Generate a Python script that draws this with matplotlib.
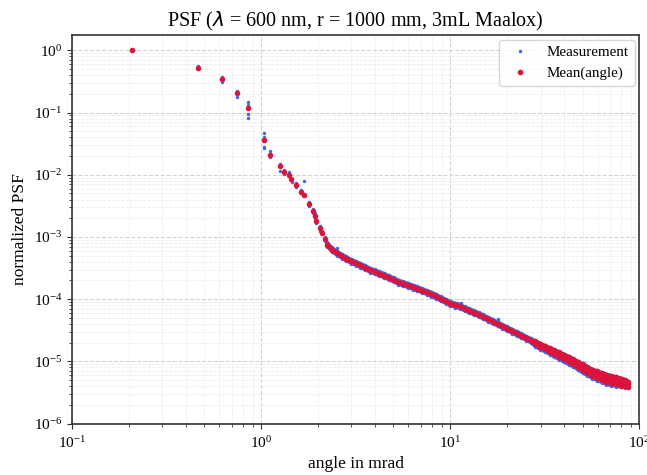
import numpy as np
import matplotlib
matplotlib.use('Agg')
import matplotlib.pyplot as plt

plt.rcParams['font.family'] = 'serif'
plt.rcParams['font.serif'] = ['Liberation Serif', 'DejaVu Serif']

# gemessene Punkte im diskreten Bereich (kleine Winkel)
ang_first = [0.208, 0.465, 0.622, 0.747, 0.855, 1.038, 1.117, 1.262, 1.325, 1.40,
             1.44, 1.52, 1.63, 1.68, 1.78, 1.88, 1.92, 1.96, 2.05, 2.09, 2.17]
mean_first = [1.0, 0.525, 0.342, 0.204, 0.118, 0.0361, 0.0205, 0.0136, 0.0110, 0.0099,
              0.0086, 0.0068, 0.0053, 0.0048, 0.0034, 0.0026, 0.0022, 0.0018, 0.00137, 0.00117, 0.00093]

meas_first_x = [0.208, 0.465, 0.465, 0.622, 0.622, 0.747, 0.747,
                0.855, 0.855, 0.855, 0.855, 1.038, 1.038, 1.038, 1.038,
                1.117, 1.117, 1.262, 1.262, 1.325, 1.325, 1.40, 1.40,
                1.44, 1.45, 1.52, 1.52, 1.63, 1.63, 1.68, 1.68,
                1.78, 1.78, 1.88, 1.88, 1.92, 1.92, 1.96, 1.96,
                2.05, 2.05, 2.09, 2.09, 2.17, 2.17]
meas_first_y = [1.0, 0.56, 0.495, 0.372, 0.313, 0.224, 0.175,
                0.148, 0.132, 0.0946, 0.083, 0.0463, 0.0408, 0.0282, 0.0265,
                0.0241, 0.0191, 0.0148, 0.0115, 0.0118, 0.0103, 0.0112, 0.0094,
                0.0087, 0.0077, 0.0075, 0.0063, 0.0056, 0.0050, 0.0079, 0.0045,
                0.0037, 0.0031, 0.0028, 0.0024, 0.0024, 0.0020, 0.0019, 0.0017,
                0.0015, 0.00125, 0.00125, 0.0011, 0.00100, 0.00086]

# dichter Bereich
ang_dense = [2.239, 2.371, 2.512, 2.661, 2.818, 2.985, 3.162, 3.350, 3.548, 3.758,
             3.981, 4.217, 4.467, 4.732, 5.012, 5.309, 5.623, 5.957, 6.310, 6.683,
             7.079, 7.499, 7.943, 8.414, 8.913, 9.441, 10.0, 10.59, 11.22, 11.89,
             12.59, 13.34, 14.13, 14.96, 15.85, 16.79, 17.78, 18.84, 19.95, 21.13,
             22.39, 23.71, 25.12, 26.61, 28.18, 29.85, 31.62, 33.50, 35.48, 37.58,
             39.81, 42.17, 44.67, 47.32, 50.12, 53.09, 56.23, 59.57, 63.10, 66.83,
             70.79, 74.99, 79.43, 84.14, 87.10]
mean_dense = [7.57e-4, 6.22e-4, 5.53e-4, 4.94e-4, 4.48e-4, 4.08e-4, 3.78e-4, 3.49e-4, 3.21e-4, 2.94e-4,
              2.75e-4, 2.58e-4, 2.40e-4, 2.22e-4, 2.05e-4, 1.89e-4, 1.77e-4, 1.67e-4, 1.57e-4, 1.48e-4,
              1.38e-4, 1.29e-4, 1.20e-4, 1.11e-4, 1.01e-4, 9.29e-5, 8.53e-5, 8.04e-5, 7.69e-5, 7.03e-5,
              6.56e-5, 6.08e-5, 5.65e-5, 5.21e-5, 4.77e-5, 4.38e-5, 4.01e-5, 3.66e-5, 3.37e-5, 3.08e-5,
              2.82e-5, 2.59e-5, 2.37e-5, 2.17e-5, 1.99e-5, 1.82e-5, 1.67e-5, 1.53e-5, 1.40e-5, 1.29e-5,
              1.18e-5, 1.08e-5, 9.86e-6, 8.89e-6, 8.02e-6, 7.23e-6, 6.61e-6, 6.15e-6, 5.75e-6, 5.37e-6,
              5.12e-6, 4.90e-6, 4.67e-6, 4.47e-6, 4.32e-6]
meas_dense_hi = [8.30e-4, 6.82e-4, 6.06e-4, 5.41e-4, 4.91e-4, 4.47e-4, 4.14e-4, 3.83e-4, 3.52e-4, 3.22e-4,
                 3.01e-4, 2.83e-4, 2.63e-4, 2.43e-4, 2.25e-4, 2.07e-4, 1.94e-4, 1.83e-4, 1.72e-4, 1.62e-4,
                 1.51e-4, 1.41e-4, 1.32e-4, 1.22e-4, 1.11e-4, 1.02e-4, 9.35e-5, 8.81e-5, 8.43e-5, 7.70e-5,
                 7.19e-5, 6.66e-5, 6.19e-5, 5.71e-5, 5.23e-5, 4.80e-5, 4.39e-5, 4.01e-5, 3.69e-5, 3.38e-5,
                 3.09e-5, 2.84e-5, 2.60e-5, 2.38e-5, 2.18e-5, 1.99e-5, 1.83e-5, 1.69e-5, 1.56e-5, 1.45e-5,
                 1.34e-5, 1.23e-5, 1.12e-5, 1.02e-5, 9.30e-6, 8.38e-6, 7.66e-6, 7.20e-6, 6.73e-6, 6.34e-6,
                 6.04e-6, 5.78e-6, 5.51e-6, 5.16e-6, 4.90e-6]
meas_dense_lo = [6.90e-4, 5.67e-4, 5.04e-4, 4.51e-4, 4.09e-4, 3.72e-4, 3.45e-4, 3.18e-4, 2.93e-4, 2.68e-4,
                 2.51e-4, 2.35e-4, 2.19e-4, 2.02e-4, 1.87e-4, 1.72e-4, 1.61e-4, 1.52e-4, 1.43e-4, 1.35e-4,
                 1.26e-4, 1.18e-4, 1.09e-4, 1.01e-4, 9.21e-5, 8.47e-5, 7.78e-5, 7.33e-5, 7.01e-5, 6.41e-5,
                 5.98e-5, 5.54e-5, 5.15e-5, 4.75e-5, 4.35e-5, 3.99e-5, 3.66e-5, 3.34e-5, 3.07e-5, 2.81e-5,
                 2.57e-5, 2.36e-5, 2.16e-5, 1.98e-5, 1.69e-5, 1.54e-5, 1.41e-5, 1.28e-5, 1.16e-5, 1.06e-5,
                 9.64e-6, 8.82e-6, 8.06e-6, 7.19e-6, 6.43e-6, 5.80e-6, 5.30e-6, 4.88e-6, 4.56e-6, 4.23e-6,
                 4.03e-6, 3.95e-6, 3.85e-6, 3.80e-6, 3.78e-6]

# Streuung des Mittelwerts am Ende (breites Band)
ang_tail = [28.18, 29.85, 31.62, 33.50, 35.48, 37.58, 39.81, 42.17, 44.67, 47.32,
            50.12, 53.09, 56.23, 59.57, 63.10, 66.83, 70.79, 74.99, 79.43, 84.14, 87.10]
mean_tail_hi = [2.10e-5, 1.92e-5, 1.77e-5, 1.63e-5, 1.51e-5, 1.40e-5, 1.29e-5, 1.18e-5, 1.08e-5, 9.84e-6,
                8.96e-6, 8.08e-6, 7.38e-6, 6.93e-6, 6.49e-6, 6.11e-6, 5.83e-6, 5.58e-6, 5.31e-6, 5.00e-6, 4.73e-6]
mean_tail_lo = [1.88e-5, 1.72e-5, 1.58e-5, 1.43e-5, 1.30e-5, 1.19e-5, 1.08e-5, 9.85e-6, 8.99e-6, 8.04e-6,
                7.18e-6, 6.47e-6, 5.92e-6, 5.46e-6, 5.10e-6, 4.72e-6, 4.50e-6, 4.31e-6, 4.10e-6, 3.99e-6, 3.94e-6]

# einzelne Ausreisser
ang_out = [2.53, 11.35, 17.9]
meas_out = [6.56e-4, 8.75e-5, 4.73e-5]

meas_x = meas_first_x + ang_dense + ang_dense + ang_out
meas_y = meas_first_y + meas_dense_hi + meas_dense_lo + meas_out
mean_x = ang_first + ang_dense + ang_tail + ang_tail
mean_y = mean_first + mean_dense + mean_tail_hi + mean_tail_lo

blue = 'royalblue'
red = 'crimson'

fig = plt.figure(figsize=(6.47, 4.75), dpi=100)
ax = fig.add_subplot(111)
fig.subplots_adjust(left=0.1113, right=0.9884, bottom=0.108, top=0.9263)

# sehr dichte Punktwolke -> als durchgehendes Band
ax.plot(ang_dense, meas_dense_hi, color=blue, lw=1.8, solid_capstyle='round')
ax.plot(ang_dense, meas_dense_lo, color=blue, lw=1.8, solid_capstyle='round')
ax.plot(meas_x, meas_y, 'o', color=blue, markersize=2.5, markeredgewidth=0, label='Measurement')

ax.plot(ang_dense, mean_dense, color=red, lw=3.4, solid_capstyle='round')
ax.plot(ang_tail, mean_tail_hi, color=red, lw=3.0, solid_capstyle='round')
ax.plot(ang_tail, mean_tail_lo, color=red, lw=3.0, solid_capstyle='round')
ax.plot(mean_x, mean_y, 'o', color=red, markersize=4.0, markeredgewidth=0, label='Mean(angle)')

ax.set_xscale('log')
ax.set_yscale('log')
ax.set_xlim(0.1, 100)
ax.set_ylim(1e-6, 1.76)

ax.grid(True, which='major', linestyle='--', color='0.83', linewidth=0.8)
ax.grid(True, which='minor', linestyle='--', color='0.93', linewidth=0.6)
ax.set_axisbelow(True)
for s in ax.spines.values():
    s.set_color('0.2')
    s.set_linewidth(1.2)
ax.tick_params(which='both', colors='0.2', labelcolor='black', labelsize=11)
ax.tick_params(axis='x', which='major', pad=5)

ax.set_title(r'PSF ($\lambda$ = 600 nm, r = 1000 mm, 3mL Maalox)', fontsize=14.5)
ax.set_xlabel('angle in mrad', fontsize=12.5, labelpad=3.5)
ax.set_ylabel('normalized PSF', fontsize=12.5, labelpad=4)
ax.legend(loc='upper right', fontsize=10.8, borderaxespad=0.3)

plt.savefig('out.png', dpi=100)
